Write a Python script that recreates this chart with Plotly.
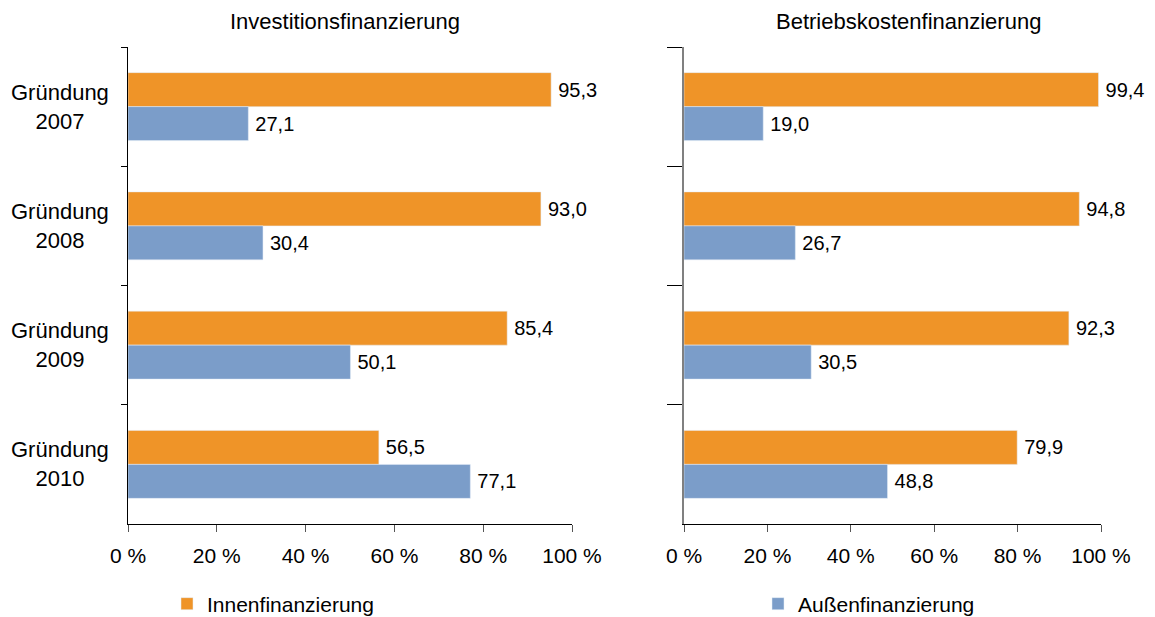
import plotly.graph_objects as go

categories = ["Gründung 2007", "Gründung 2008", "Gründung 2009", "Gründung 2010"]
cat_labels = ["Gründung<br>2007", "Gründung<br>2008", "Gründung<br>2009", "Gründung<br>2010"]
invest_innen = [95.3, 93.0, 85.4, 56.5]
invest_aussen = [27.1, 30.4, 50.1, 77.1]
betrieb_innen = [99.4, 94.8, 92.3, 79.9]
betrieb_aussen = [19.0, 26.7, 30.5, 48.8]
panel_titles = ["Investitionsfinanzierung", "Betriebskostenfinanzierung"]
series_names = ["Innenfinanzierung", "Außenfinanzierung"]
x_ticks = [0, 20, 40, 60, 80, 100]

ORANGE = "#EF9428"
BLUE = "#7B9DC9"
FONT = "Liberation Sans, Arial, sans-serif"
W, H = 1155, 617


def fmt(vals):
    return ["\u2009" + f"{v:.1f}".replace(".", ",") for v in vals]


fig = go.Figure()

common = dict(orientation="h", textposition="outside", cliponaxis=False,
              constraintext="none", textfont=dict(size=20, color="black", family=FONT))

fig.add_trace(go.Bar(y=categories, x=invest_innen, text=fmt(invest_innen), name=series_names[0],
                     marker_color=ORANGE, xaxis="x", yaxis="y", legend="legend", **common))
fig.add_trace(go.Bar(y=categories, x=invest_aussen, text=fmt(invest_aussen), name=series_names[1],
                     marker_color=BLUE, xaxis="x", yaxis="y", showlegend=False, **common))
fig.add_trace(go.Bar(y=categories, x=betrieb_innen, text=fmt(betrieb_innen), name=series_names[0],
                     marker_color=ORANGE, xaxis="x2", yaxis="y2", showlegend=False, **common))
fig.add_trace(go.Bar(y=categories, x=betrieb_aussen, text=fmt(betrieb_aussen), name=series_names[1],
                     marker_color=BLUE, xaxis="x2", yaxis="y2", legend="legend2", **common))

ydom = [1 - 524 / H, 1 - 47 / H]

xcommon = dict(range=[0, 100], tickvals=x_ticks, ticktext=[f"{t} %" for t in x_ticks],
               showline=True, linecolor="black", linewidth=1, ticks="outside", ticklen=7,
               tickcolor="#555", showgrid=False, zeroline=False, fixedrange=True,
               automargin=False,
               tickfont=dict(size=21, color="black", family=FONT), ticklabelstandoff=6)

fig.update_layout(
    width=W, height=H,
    margin=dict(l=0, r=0, t=0, b=0, autoexpand=False),
    paper_bgcolor="white", plot_bgcolor="white",
    font=dict(family=FONT, color="black"),
    barmode="group", bargap=0.43, bargroupgap=0,
    xaxis=dict(domain=[128 / W, 572 / W], anchor="y", **xcommon),
    xaxis2=dict(domain=[684 / W, 1101 / W], anchor="y2", **xcommon),
    yaxis=dict(domain=ydom, anchor="x", type="category", autorange="reversed",
               showline=True, linecolor="black", linewidth=1, ticks="outside", ticklen=6,
               tickcolor="black", tickson="boundaries", showticklabels=False,
               showgrid=False, zeroline=False, automargin=False),
    yaxis2=dict(domain=ydom, anchor="x2", type="category", autorange="reversed",
                showline=True, linecolor="#808080", linewidth=1.5, ticks="outside", ticklen=15,
                tickcolor="black", tickson="boundaries", showticklabels=False,
                showgrid=False, zeroline=False, automargin=False),
    legend=dict(x=167 / W, y=1 - 604 / H, xanchor="left", yanchor="middle",
                orientation="h", font=dict(size=21, family=FONT, color="black"),
                bgcolor="rgba(0,0,0,0)"),
    legend2=dict(x=758 / W, y=1 - 604 / H, xanchor="left", yanchor="middle",
                 orientation="h", font=dict(size=21, family=FONT, color="black"),
                 bgcolor="rgba(0,0,0,0)"),
    showlegend=True,
)

# Category labels (centered, two lines)
for cat, lab in zip(categories, cat_labels):
    fig.add_annotation(x=60 / W, xref="paper", y=cat, yref="y", text=lab, showarrow=False,
                       align="center", xanchor="center", yanchor="middle",
                       font=dict(size=22, family=FONT, color="black"))

# Panel titles
for t, xc in zip(panel_titles, [345 / W, 908 / W]):
    fig.add_annotation(x=xc, xref="paper", y=1 - 22 / H, yref="paper", text=t, showarrow=False,
                       xanchor="center", yanchor="middle",
                       font=dict(size=22, family=FONT, color="black"))

fig.write_html("out.html", config={"displayModeBar": False},
               post_script="document.body.style.margin='0';document.body.style.overflow='hidden';")
